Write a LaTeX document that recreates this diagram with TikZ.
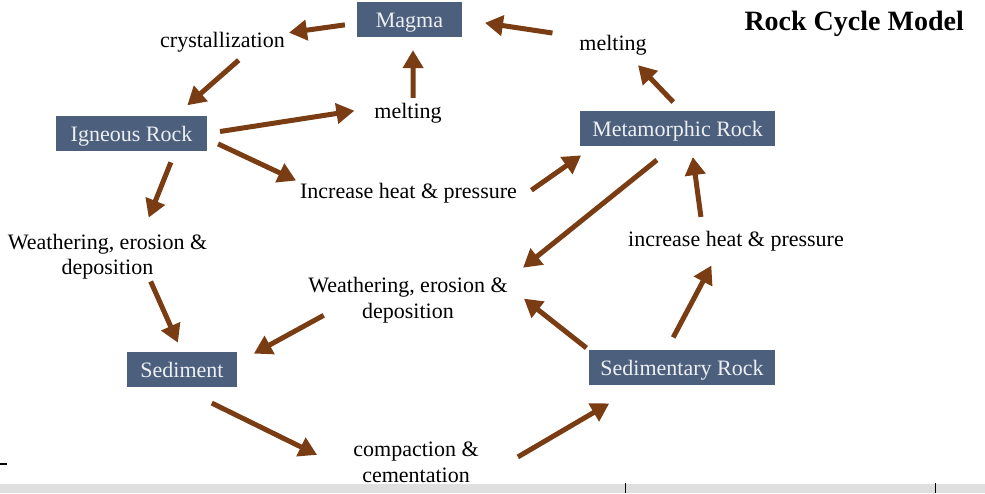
\documentclass[tikz,border=0pt]{standalone}
\usepackage{fontspec}
\setmainfont{Liberation Serif}
\usetikzlibrary{arrows.meta}
\definecolor{boxblue}{RGB}{76,96,126}
\definecolor{arrbrown}{RGB}{122,60,18}

\begin{document}
\begin{tikzpicture}
  [x=1pt,y=-1pt,
   every node/.style={inner sep=2pt,align=center,font=\fontsize{22}{25.5}\selectfont},
   box/.style={fill=boxblue,text=white!90!boxblue,inner ysep=0pt,minimum height=35pt,text height=15pt,text depth=0pt},
   arr/.style={draw=arrbrown,line width=5pt,-{Triangle[length=18pt,width=20pt]}}]
  \useasboundingbox (0,0) rectangle (985,493);

  \node[box,minimum width=105pt] (mag) at (409.5,19.5) {Magma};
  \node[box,minimum width=151pt] (ign) at (131.5,133.5) {Igneous Rock};
  \node[box,minimum width=195pt] (met) at (677.5,128.5) {Metamorphic Rock};
  \node[box,minimum width=110pt] (sed) at (182,369.5) {Sediment};
  \node[box,minimum width=186pt] (sedr) at (682,367.5) {Sedimentary Rock};

  \node (cry) at (222.5,42) {crystallization};
  \node (mlt1) at (613,45) {melting};
  \node (mlt2) at (408,113) {melting};
  \node (hp1) at (408.5,193) {Increase heat \& pressure};
  \node (hp2) at (736,241) {increase heat \& pressure};
  \node (we1) at (107.5,256.5) {Weathering, erosion \&\\deposition};
  \node (we2) at (408,300) {Weathering, erosion \&\\deposition};
  \node (cmp) at (416,462.5) {compaction \&\\cementation};
  \node[anchor=east,font=\bfseries\fontsize{28}{30}\selectfont] (ttl) at (966,24) {Rock Cycle Model};

  \draw[arr,shorten <=25pt,shorten >=23pt] (mlt1.167) -- (mag.east);
  \draw[arr,shorten <=12pt,shorten >=2pt] (mag.184) -- (cry.8);
  \draw[arr,shorten <=9pt,shorten >=16pt] (cry.-28) -- (ign.22);
  \draw[arr,shorten <=3pt,shorten >=13pt] (mlt2.67) -- (mag.-79);
  \draw[arr,shorten <=13pt,shorten >=18pt] (ign.east) -- (mlt2.172);
  \draw[arr,shorten <=12pt,shorten >=2pt] (ign.-4) -- (hp1.174);
  \draw[arr,shorten <=15pt,shorten >=16pt] (hp1.-3) -- (met.192);
  \draw[arr,shorten <=12pt,shorten >=11pt] (met.77) -- (mlt1.-35);
  \draw[arr,shorten <=12pt,shorten >=15pt] (ign.-22) -- (we1.35);
  \draw[arr,shorten >=10pt] (we1.-30) -- (sed.north);
  \draw[arr,shorten <=22pt,shorten >=17pt] (met.259) -- (we2.12);
  \draw[arr,shorten <=-20pt,shorten >=19pt] (we2.south west) -- (sed.7);
  \draw[arr,shorten <=12pt,shorten >=11pt] (hp2.160) -- (met.-52);
  \draw[arr,shorten <=14pt,shorten >=14pt] (sedr.131) -- (hp2.214);
  \draw[arr,shorten <=3pt,shorten >=18pt] (sedr.north west) -- (we2.7);
  \draw[arr,shorten <=36pt,shorten >=38pt] (sed.-98) -- (cmp.188);
  \draw[arr,shorten <=43pt,shorten >=36pt] (cmp.-14) -- (sedr.203);

  \fill[gray!25] (0,484) rectangle (985,493);
  \draw[line width=1pt] (625,483) -- (625,493) (935,483) -- (935,493);
  \draw[line width=2.5pt] (0,464) -- (7,464);
\end{tikzpicture}
\end{document}
